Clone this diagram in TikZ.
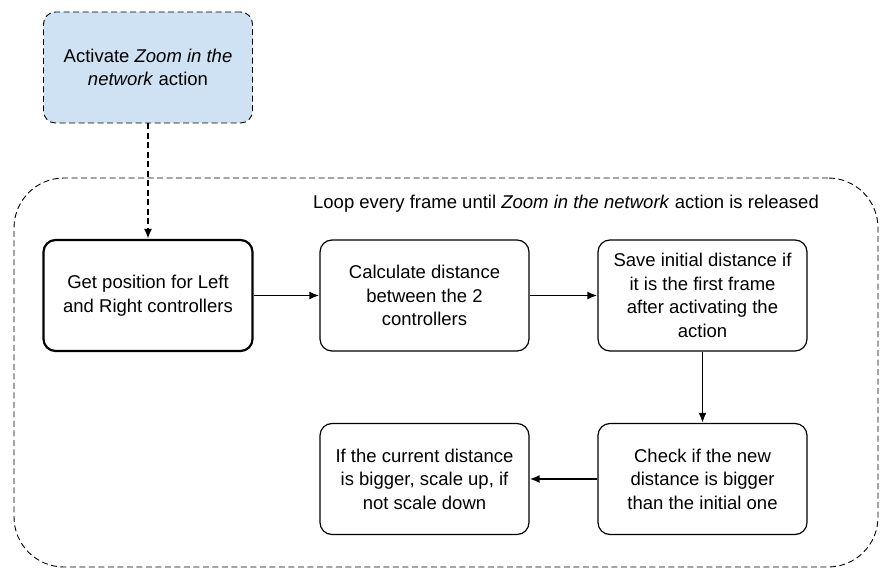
\documentclass[tikz,border=0pt]{standalone}
\usepackage{fontspec}
\setmainfont{Liberation Sans}
\usetikzlibrary{arrows.meta}
\definecolor{actblue}{HTML}{CFE2F3}
\tikzset{
  stepbox/.style={draw, line width=1.2pt, rounded corners=12pt, minimum width=209pt,
    minimum height=111pt, align=center, font=\fontsize{18.5}{23.5}\selectfont},
  flow/.style={-{Latex[length=10pt,width=8pt]}, line width=1.8pt},
  longdash/.style={dash pattern=on 6pt off 3.5pt},
}
\begin{document}
\begin{tikzpicture}[x=1pt,y=-1pt]
  \useasboundingbox (0,0) rectangle (888,580);
  % loop container
  \node[draw, longdash, line width=0.9pt, rounded corners=50pt, minimum width=864pt,
    minimum height=389pt] (loop) at (446,372.5) {};
  \node[font=\fontsize{18.5}{22}\selectfont] (looplabel) at (566,204)
    {Loop every frame until \textit{Zoom in the network} action is released};
  % start node
  \node[stepbox, longdash, line width=0.9pt, fill=actblue] (activate) at (148,67.5)
    {Activate \textit{Zoom in the}\\\textit{network} action};
  % steps
  \node[stepbox, line width=2.2pt] (getpos) at (148,295.5) {Get position for Left\\and Right controllers};
  \node[stepbox] (calcdist) at (424.5,295.5) {Calculate distance\\between the 2\\controllers};
  \node[stepbox] (saveinit) at (702.5,295.5) {Save initial distance if\\it is the first frame\\after activating the\\action};
  \node[stepbox] (check) at (702.5,479) {Check if the new\\distance is bigger\\than the initial one};
  \node[stepbox] (scale) at (424.5,479) {If the current distance\\is bigger, scale up, if\\not scale down};
  % connectors
  \draw[flow, longdash] (activate) -- (getpos);
  \draw[flow] (getpos) -- (calcdist);
  \draw[flow] (calcdist) -- (saveinit);
  \draw[flow] (saveinit) -- (check);
  \draw[flow] (check) -- (scale);
\end{tikzpicture}
\end{document}
